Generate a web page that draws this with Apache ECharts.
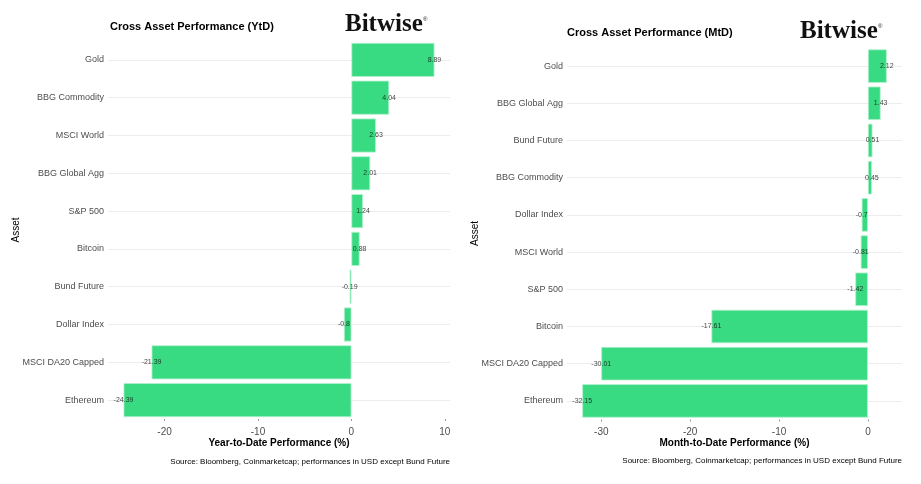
<!DOCTYPE html>
<html><head><meta charset="utf-8">
<script src="https://cdn.jsdelivr.net/npm/echarts@6/dist/echarts.min.js"></script>
<style>html,body{margin:0;padding:0;background:#fff}#c{width:921px;height:484px}</style>
</head><body><div id="c"></div>
<script>
const ytdAssets = ["Gold","BBG Commodity","MSCI World","BBG Global Agg","S&P 500","Bitcoin","Bund Future","Dollar Index","MSCI DA20 Capped","Ethereum"];
const ytdValues = [8.89,4.04,2.63,2.01,1.24,0.88,-0.19,-0.8,-21.39,-24.39];
const mtdAssets = ["Gold","BBG Global Agg","Bund Future","BBG Commodity","Dollar Index","MSCI World","S&P 500","Bitcoin","MSCI DA20 Capped","Ethereum"];
const mtdValues = [2.12,1.43,0.51,0.45,-0.7,-0.81,-1.42,-17.61,-30.01,-32.15];
const ytdTicks = [-20,-10,0,10];
const mtdTicks = [-30,-20,-10,0];
const titles = ["Cross Asset Performance (YtD)","Cross Asset Performance (MtD)"];
const axisTitles = ["Year-to-Date Performance (%)","Month-to-Date Performance (%)"];
const yTitle = "Asset";
const source = "Source: Bloomberg, Coinmarketcap; performances in USD except Bund Future";
const brand = "Bitwise";

function expand(vals){const mn=Math.min(...vals,0),mx=Math.max(...vals,0),r=mx-mn;return [mn-0.05*r,mx+0.05*r];}
const ye=expand(ytdValues), me=expand(mtdValues);
const GREEN='#39db82';
function xAxis(idx,ext,ticks,name){
  return {type:'value',gridIndex:idx,min:ext[0],max:ext[1],
    name:name,nameLocation:'middle',nameGap:19,nameMoveOverlap:false,
    nameTextStyle:{fontSize:10,fontWeight:'bold',color:'#000',fontFamily:'Liberation Sans'},
    axisLine:{show:false},
    axisTick:{show:true,customValues:ticks,length:2,lineStyle:{color:'#999'}},
    axisLabel:{customValues:ticks,fontSize:10,color:'#4d4d4d',margin:8,fontFamily:'Liberation Sans'},
    splitLine:{show:false}};
}
function yAxis(idx,cats){
  return {type:'category',gridIndex:idx,data:cats,inverse:true,
    name:yTitle,nameLocation:'middle',nameGap:87,nameRotate:90,nameMoveOverlap:false,
    nameTextStyle:{fontSize:10,color:'#000',fontFamily:'Liberation Sans'},
    axisLine:{show:false},axisTick:{show:false},
    axisLabel:{fontSize:9,color:'#4d4d4d',margin:4,fontFamily:'Liberation Sans'},
    splitLine:{show:true,alignWithLabel:true,lineStyle:{color:'#ededed',width:1}}};
}
function bars(idx,vals){
  return {type:'bar',xAxisIndex:idx,yAxisIndex:idx,data:vals,barCategoryGap:'10%',
    itemStyle:{color:GREEN,borderColor:'#b5f0cf',borderWidth:0.8},silent:true};
}
function labels(idx,vals,cats){
  return {type:'scatter',xAxisIndex:idx,yAxisIndex:idx,symbolSize:0,silent:true,z:5,
    data:vals.map((v,i)=>[v,cats[i]]),
    label:{show:true,position:'inside',formatter:p=>String(p.value[0]),fontSize:7,color:'#111',fontFamily:'Liberation Sans'}};
}
const chart=echarts.init(document.getElementById('c'),null,{renderer:'canvas'});
chart.setOption({
  animation:false,backgroundColor:'#fff',
  grid:[{left:108,top:41,width:342,height:378},{left:567,top:47.5,width:335,height:372}],
  xAxis:[xAxis(0,ye,ytdTicks,axisTitles[0]),xAxis(1,me,mtdTicks,axisTitles[1])],
  yAxis:[yAxis(0,ytdAssets),yAxis(1,mtdAssets)],
  series:[bars(0,ytdValues),bars(1,mtdValues),labels(0,ytdValues,ytdAssets),labels(1,mtdValues,mtdAssets)],
  graphic:[
    {type:'text',left:110,top:21,style:{text:titles[0],font:'bold 11px Liberation Sans',fill:'#000'}},
    {type:'text',left:567,top:27,style:{text:titles[1],font:'bold 11px Liberation Sans',fill:'#000'}},
    {type:'text',left:345,top:12,style:{text:brand,font:'bold 25px Liberation Serif',fill:'#111'}},
    {type:'text',left:423,top:16,style:{text:'®',font:'6px Liberation Sans',fill:'#111'}},
    {type:'text',left:800,top:19,style:{text:brand,font:'bold 25px Liberation Serif',fill:'#111'}},
    {type:'text',left:878,top:23,style:{text:'®',font:'6px Liberation Sans',fill:'#111'}},
    {type:'text',right:471,top:458,style:{text:source,font:'8px Liberation Sans',fill:'#000',align:'right'}},
    {type:'text',right:19,top:457,style:{text:source,font:'8px Liberation Sans',fill:'#000',align:'right'}}
  ]
});
</script></body></html>
